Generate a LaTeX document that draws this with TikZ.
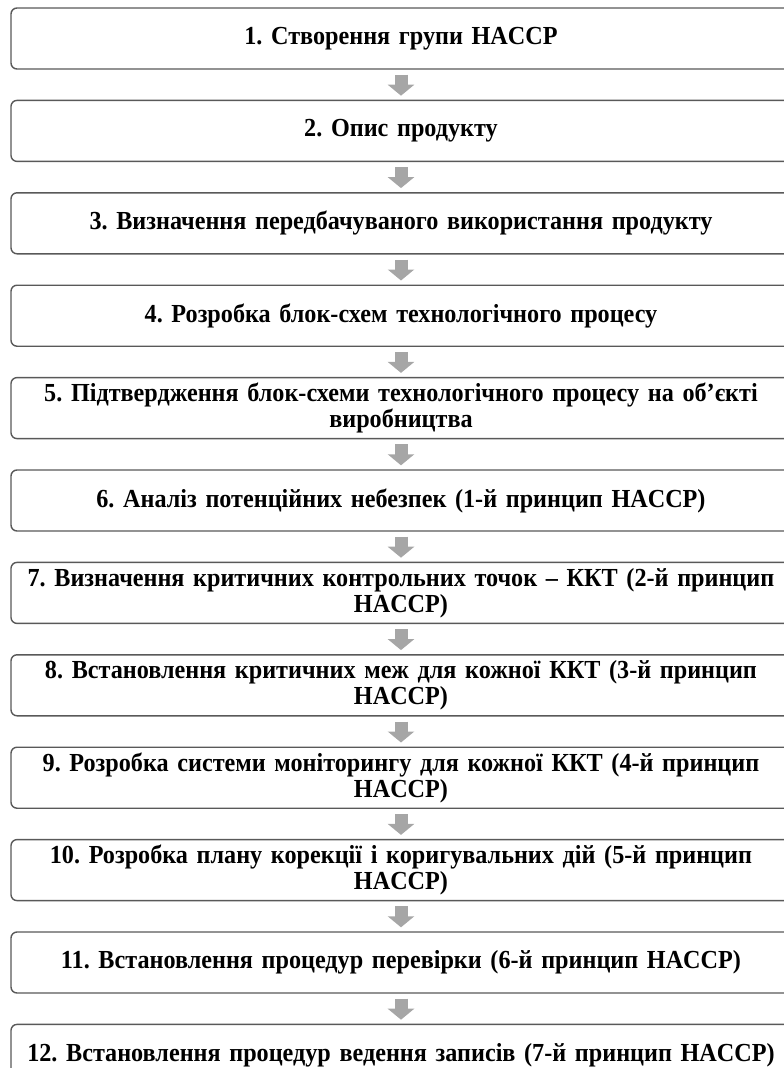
\documentclass[tikz,border=0pt]{standalone}
\usepackage{fontspec}
\setmainfont{Liberation Serif}[FakeStretch=0.93, WordSpace=0.7]
\usepackage{xcolor}
\definecolor{hcline}{RGB}{89,89,89}
\definecolor{hcarrow}{RGB}{166,166,166}
\usetikzlibrary{arrows.meta,positioning}
\tikzset{
  stage/.style={draw=hcline, line width=1.4pt, rounded corners=6pt, fill=white,
                font=\fontsize{26}{26}\selectfont\bfseries\frenchspacing,
                minimum width=780pt, minimum height=61pt, text width=772pt,
                align=center, inner sep=2pt},
  flowarrow/.style={draw=hcarrow, line width=13pt,
                    -{Triangle[width=26pt, length=11pt]}, shorten >=4pt, shorten <=5pt},
}

\begin{document}
\begin{tikzpicture}[x=1pt, y=-1pt, node distance=30pt]

\clip (0,0) rectangle (784,1068);

% Preliminary steps
\node[stage] (s1) at (401,38.5) {1. Створення групи HACCP};
\node[stage, below=of s1] (s2) {2. Опис продукту};
\node[stage, below=of s2] (s3) {3. Визначення передбачуваного використання продукту};
\node[stage, below=of s3] (s4) {4. Розробка блок-схем технологічного процесу};
\node[stage, below=of s4] (s5) {5. Підтвердження блок-схеми технологічного процесу на об’єкті\\виробництва};

% Seven principles
\node[stage, below=of s5] (s6) {6. Аналіз потенційних небезпек (1-й принцип HACCP)};
\node[stage, below=of s6] (s7) {7. Визначення критичних контрольних точок – ККТ (2-й принцип\\HACCP)};
\node[stage, below=of s7] (s8) {8. Встановлення критичних меж для кожної ККТ (3-й принцип\\HACCP)};
\node[stage, below=of s8] (s9) {9. Розробка системи моніторингу для кожної ККТ (4-й принцип\\HACCP)};
\node[stage, below=of s9] (s10) {10. Розробка плану корекції і коригувальних дій (5-й принцип\\HACCP)};
\node[stage, below=of s10] (s11) {11. Встановлення процедур перевірки (6-й принцип HACCP)};
\node[stage, below=of s11] (s12) {12. Встановлення процедур ведення записів (7-й принцип HACCP)};

% Arrows
\draw[flowarrow] (s1) -- (s2);
\draw[flowarrow] (s2) -- (s3);
\draw[flowarrow] (s3) -- (s4);
\draw[flowarrow] (s4) -- (s5);
\draw[flowarrow] (s5) -- (s6);
\draw[flowarrow] (s6) -- (s7);
\draw[flowarrow] (s7) -- (s8);
\draw[flowarrow] (s8) -- (s9);
\draw[flowarrow] (s9) -- (s10);
\draw[flowarrow] (s10) -- (s11);
\draw[flowarrow] (s11) -- (s12);

\end{tikzpicture}
\end{document}
